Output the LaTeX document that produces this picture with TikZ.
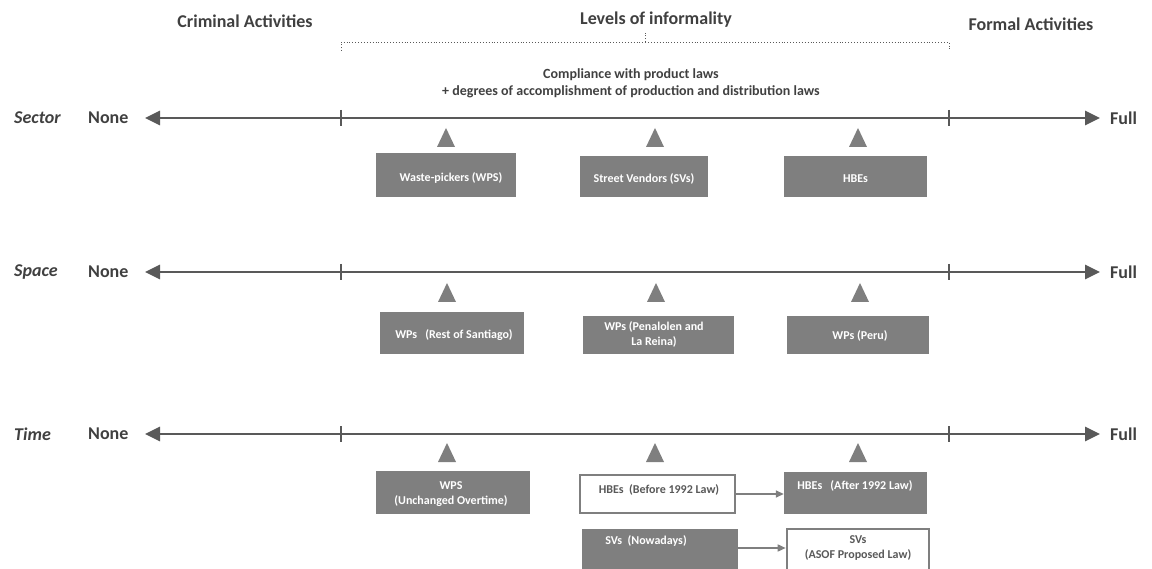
\documentclass[tikz,border=0pt]{standalone}
\usepackage{fontspec}
\setmainfont{Carlito}
\usetikzlibrary{arrows.meta}
\definecolor{axisgray}{HTML}{595959}
\definecolor{boxgray}{HTML}{7F7F7F}
\definecolor{inkgray}{HTML}{404040}
\tikzset{
  hdr/.style={font=\bfseries\fontsize{18}{21}\selectfont, text=inkgray},
  dimlabel/.style={font=\bfseries\itshape\fontsize{18}{21}\selectfont, text=inkgray, anchor=west, inner sep=0},
  endlabel/.style={font=\bfseries\fontsize{18}{21}\selectfont, text=inkgray, anchor=west, inner sep=0},
  note/.style={font=\bfseries\fontsize{14}{17}\selectfont, text=inkgray, align=center},
  axisline/.style={draw=axisgray, line width=2.8,
    {Triangle[length=15,width=14]}-{Triangle[length=15,width=14]}},
  tickmark/.style={draw=axisgray, line width=1.8},
  bracket/.style={draw=axisgray, line width=0.9, dotted},
  marker/.style={fill=boxgray},
  fbox/.style={fill=boxgray, draw=none, inner sep=0},
  obox/.style={fill=white, draw=boxgray, line width=2.6, inner sep=0},
  ftext/.style={font=\bfseries\fontsize{12}{15}\selectfont, text=white, align=center, inner sep=0},
  otext/.style={font=\bfseries\fontsize{12}{15}\selectfont, text=axisgray, align=center, inner sep=0},
  link/.style={draw=boxgray, line width=1.6, -{Triangle[length=8,width=7]}},
}
\begin{document}
\begin{tikzpicture}[x=1pt, y=-1pt]
\useasboundingbox (0,0) rectangle (1152,569);

% column headings
\node[hdr] (crim) at (245,21) {Criminal Activities};
\node[hdr] (lev) at (656,20) {Levels of informality};
\node[hdr] (form) at (1031,24) {Formal Activities};

% dotted bracket over the informal range
\coordinate (brL) at (341,51);
\coordinate (brLt) at (341,42);
\coordinate (brRt) at (949,42);
\coordinate (brR) at (949,51);
\coordinate (brM) at (645,42);
\coordinate (brMt) at (645,33);
\draw[bracket] (brL) -- (brLt) -- (brRt) -- (brR);
\draw[bracket] (brM) -- (brMt);

\node[note] (compl) at (631,83) {Compliance with product laws\\+ degrees of accomplishment of production and distribution laws};

% three axes: sector, space, time
\foreach \nm/\lab/\yy in {sec/Sector/118, spa/Space/272, tim/Time/434}{
  \node[dimlabel] (\nm-lab) at (14,\yy) {\lab};
  \node[endlabel] (\nm-none) at (88,\yy) {None};
  \node[endlabel] (\nm-full) at (1110,\yy) {Full};
  \coordinate (\nm-l) at (145,\yy);
  \coordinate (\nm-r) at (1100,\yy);
  \draw[axisline] (\nm-l) -- (\nm-r);
  \coordinate (\nm-t1a) at (341,\yy-8);
  \coordinate (\nm-t1b) at (341,\yy+8);
  \coordinate (\nm-t2a) at (949,\yy-8);
  \coordinate (\nm-t2b) at (949,\yy+8);
  \draw[tickmark] (\nm-t1a) -- (\nm-t1b);
  \draw[tickmark] (\nm-t2a) -- (\nm-t2b);
}

% position markers under each axis
\foreach \xx/\yy in {446/147, 655/147, 858/147, 447/302, 656/302, 860/302, 447/462, 655/462, 858/462}{
  \fill[marker] (\xx-9,\yy) -- (\xx+9,\yy) -- (\xx,\yy-19) -- cycle;
}

% sector boxes
\node[fbox, minimum width=140, minimum height=44] (wps) at (446,175) {};
\node[ftext] (wps-t) at (451,178) {Waste-pickers (WPS)};
\node[fbox, minimum width=128, minimum height=41] (svs) at (644,176.5) {};
\node[ftext] (svs-t) at (644,179) {Street Vendors (SVs)};
\node[fbox, minimum width=143, minimum height=41] (hbe) at (855.5,176.5) {};
\node[ftext] (hbe-t) at (855.5,179) {HBEs};

% space boxes
\node[fbox, minimum width=144, minimum height=42] (wrs) at (452,333) {};
\node[ftext] (wrs-t) at (454,335) {WPs\ \ \ (Rest of Santiago)};
\node[fbox, minimum width=151, minimum height=38] (wpl) at (658.5,335) {};
\node[ftext] (wpl-t) at (654,334) {WPs (Penalolen and\\La Reina)};
\node[fbox, minimum width=142, minimum height=38] (wpe) at (858,335) {};
\node[ftext] (wpe-t) at (860,336) {WPs (Peru)};

% time boxes
\node[fbox, minimum width=154, minimum height=43] (wpu) at (453,492.5) {};
\node[ftext] (wpu-t) at (451,494) {WPS\\(Unchanged Overtime)};
\node[obox, minimum width=155, minimum height=38] (hbb) at (657.5,494) {};
\node[otext] (hbb-t) at (659,490) {HBEs\ \ (Before 1992 Law)};
\node[fbox, minimum width=143, minimum height=42] (hba) at (855.5,493) {};
\node[ftext] (hba-t) at (855,486) {HBEs\ \ \ (After 1992 Law)};
\node[fbox, minimum width=156, minimum height=42] (svn) at (660,550) {};
\node[ftext] (svn-t) at (646,541) {SVs\ \ (Nowadays)};
\node[obox, minimum width=142, minimum height=42] (sva) at (858,550) {};
\node[otext] (sva-t) at (858,548) {SVs\\(ASOF Proposed Law)};

% transitions over time
\draw[link] (hbb.east |- 0,494) -- (hba.west |- 0,494);
\draw[link] (svn.east |- 0,548) -- (sva.west |- 0,548);
\end{tikzpicture}
\end{document}
